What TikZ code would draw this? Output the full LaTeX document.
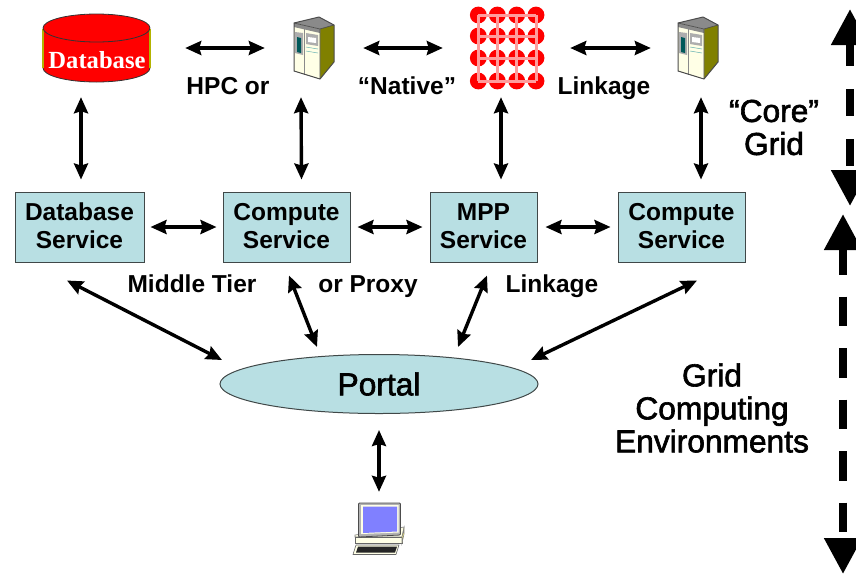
\documentclass[tikz,border=0pt]{standalone}
\usepackage{fontspec}
\setmainfont{Liberation Sans}
\newfontfamily\dbfont{Liberation Serif}
\newfontfamily\medfont[FakeBold=2]{Liberation Sans}
\usetikzlibrary{arrows.meta,shapes.geometric}
\definecolor{teal1}{HTML}{B8DFE3}
\definecolor{edge1}{HTML}{404848}
\definecolor{olive1}{HTML}{808000}
\definecolor{cream1}{HTML}{FFFFE6}
\definecolor{pink1}{HTML}{FF9C9C}
\definecolor{grey1}{HTML}{8A8A8A}
\tikzset{
  dbl/.style={line width=3.4pt,{Stealth[length=16pt,width=14pt,inset=2pt]}-{Stealth[length=16pt,width=14pt,inset=2pt]}},
  bigdash/.style={line width=8pt,{Triangle[length=36pt,width=36pt]}-{Triangle[length=36pt,width=36pt]}},
  svc/.style={draw=edge1,line width=1pt,fill=teal1,minimum height=70pt,align=center,inner sep=0pt,font=\fontsize{24.5}{28}\selectfont\bfseries,execute at end node={\rule[-2pt]{0pt}{2pt}}},
  lab/.style={inner sep=0pt,anchor=base,font=\fontsize{24.5}{28}\selectfont\bfseries},
  biglab/.style={inner sep=0pt,align=center,font=\fontsize{31.7}{33}\selectfont\medfont},
  icon/.style={inner sep=0pt,minimum width=42pt,minimum height=62pt},
  server/.pic={
    \fill[grey1] (0,6) -- (25,0) -- (40,8) -- (26,12) -- cycle;
    \fill[olive1] (26,12) -- (40,8) -- (40,45) -- (26,62) -- cycle;
    \fill[cream1] (0,6) -- (26,12) -- (26,62) -- (0,54) -- cycle;
    \fill[grey1] (0,6) -- (26,12) -- (26,16) -- (0,10) -- cycle;
    \fill[grey1!70] (1,15) -- (9,16) -- (9,38) -- (1,36) -- cycle;
    \fill[teal!70!black] (3,20) -- (7,21) -- (7,36) -- (3,35) -- cycle;
    \fill[grey1!70] (12,16) -- (24,18) -- (24,29) -- (12,27) -- cycle;
    \fill[white] (14,20) -- (22,21) -- (22,26) -- (14,25) -- cycle;
    \draw[teal!60,line width=.5pt] (12,30) -- (24,32) (12,34) -- (24,36);
    \draw[grey1,line width=.7pt] (10.5,12) -- (10.5,58);
    \draw[black!70,line width=1pt,line join=round] (0,6) -- (25,0) -- (40,8) -- (40,45) -- (26,62) -- (0,54) -- cycle;
    \draw[black!70,line width=.7pt] (0,6) -- (26,12) -- (40,8) (26,12) -- (26,62);
  }
}
\begin{document}
\begin{tikzpicture}[x=1pt,y=-1pt]
\useasboundingbox (0,0) rectangle (856,574);
% database
\fill[red,draw=black!80,line width=.8pt] (96.5,68) ellipse[x radius=53.5,y radius=14];
\fill[red] (43,28) rectangle (150,68);
\draw[olive1!60!yellow,line width=1.2pt] (43,29) -- (43,68) (150,29) -- (150,68);
\fill[red,draw=black!80,line width=.8pt] (96.5,28) ellipse[x radius=53.5,y radius=14];
\node[inner sep=0pt,minimum width=107pt,minimum height=68pt] (db) at (96.5,48) {};
\node[inner sep=0pt,text=white,font=\fontsize{24.6}{28}\selectfont\dbfont\bfseries] (dbtext) at (97,60) {Database};
% servers
\node[icon] (srvA) at (314,48) {};
\node[icon] (srvB) at (698,48) {};
\pic at (294,17) {server};
\pic at (678,17) {server};
% mpp
\node[icon,minimum width=74pt,minimum height=82pt] (mpp) at (507,48) {};
\foreach \x in {478.3,497.3,516.7,536}{\foreach \y in {15,36,58,81}{\fill[red] (\x,\y) circle[radius=8.4];}}
\foreach \x in {478.3,497.3,516.7,536}{\draw[pink1,line width=3pt] (\x,15) -- (\x,81);}
\foreach \y in {15,36,58,81}{\draw[pink1,line width=3pt] (478.3,\y) -- (536,\y);}
% services
\node[svc,minimum width=129pt] (dbs) at (79.5,227) {Database\\Service};
\node[svc,minimum width=127pt] (cs1) at (286.5,227) {Compute\\Service};
\node[svc,minimum width=107pt] (mps) at (483.5,227) {MPP\\Service};
\node[svc,minimum width=127pt] (cs2) at (681.5,227) {Compute\\Service};
% portal
\node[ellipse,draw=edge1,line width=1pt,fill=teal1,minimum width=318pt,minimum height=59pt,inner sep=0pt,font=\fontsize{31.7}{33}\selectfont\medfont] (portal) at (379,384) {Portal};
% pc
\fill[cream1,draw=black!50,line width=.6pt] (355,537) -- (402,537) -- (404,527) -- (355,535) -- cycle;
\fill[cream1,draw=black!60,line width=.7pt] (355,537) -- (402,537) -- (402,543) -- (355,543) -- cycle;
\fill[yellow!55!white,draw=black!50,line width=.6pt] (402,537) -- (404,528) -- (404,534) -- (402,543) -- cycle;
\fill[black!30,draw=black!70,line width=.8pt,rounded corners=1pt] (358.5,503) -- (400.5,503) -- (400.5,535) -- (358.5,537) -- cycle;
\fill[cream1] (361,505) -- (398.5,505) -- (398.5,532.5) -- (361,534) -- cycle;
\fill[blue!50!white] (363,506.5) -- (397,506.5) -- (397,531.5) -- (363,533) -- cycle;
\fill[cream1,draw=black!60,line width=.6pt] (356,545) -- (399,545) -- (396,554.5) -- (353,554.5) -- cycle;
\fill[black!85] (358,546.5) -- (397,546.5) -- (395,552.5) -- (356,552.5) -- cycle;
\node[inner sep=0pt,minimum width=50pt,minimum height=52pt] (pc) at (379,529) {};
% arrows top row
\draw[dbl] ([xshift=35]db.east) -- ([xshift=-28]srvA.west);
\draw[dbl] ([xshift=28]srvA.east) -- ([xshift=-27]mpp.west);
\draw[dbl] ([xshift=26]mpp.east) -- ([xshift=-26]srvB.west);
% arrows vertical
\draw[dbl] ([shift={(-15.5,15)}]db.south) -- ([shift={(1.5,-12)}]dbs.north);
\draw[dbl] ([shift={(-13,18)}]srvA.south) -- ([shift={(15,-12)}]cs1.north);
\draw[dbl] ([shift={(-6,8)}]mpp.south) -- ([shift={(17.5,-12)}]mps.north);
\draw[dbl] ([shift={(3,18)}]srvB.south) -- ([shift={(19.5,-12)}]cs2.north);
% service row
\draw[dbl] ([xshift=6]dbs.east) -- ([xshift=-6]cs1.west);
\draw[dbl] ([xshift=7]cs1.east) -- ([xshift=-7]mps.west);
\draw[dbl] ([xshift=8]mps.east) -- ([xshift=-7]cs2.west);
% portal arrows
\draw[dbl] ([shift={(-12.5,18)}]dbs.south) -- ([shift={(-157,-24)}]portal.center);
\draw[dbl] ([shift={(2.5,13)}]cs1.south) -- ([shift={(-62,-37)}]portal.center);
\draw[dbl] ([shift={(3.5,13)}]mps.south) -- ([shift={(79,-37)}]portal.center);
\draw[dbl] ([shift={(15.5,18)}]cs2.south) -- ([shift={(152,-24)}]portal.center);
\draw[dbl] ([shift={(0,16)}]portal.south) -- ([shift={(0,-11)}]pc.north);
% dashed
\coordinate (upT) at (850,9);
\coordinate (upB) at (850,206);
\coordinate (loT) at (843,214);
\coordinate (loB) at (843,574);
\draw[bigdash,dash pattern=on 27pt off 23pt,dash phase=4pt] (upT) -- (upB);
\draw[bigdash,dash pattern=on 29.5pt off 22pt,dash phase=3pt] (loT) -- (loB);
% labels
\node[lab] (l1) at (228,94) {HPC or};
\node[lab] (l2) at (407,94) {“Native”};
\node[lab] (l3) at (604,94) {Linkage};
\node[biglab] (l4) at (774,127.5) {“Core”\\Grid};
\node[lab] (l5) at (192,292) {Middle Tier};
\node[lab] (l6) at (368,292) {or Proxy};
\node[lab] (l7) at (552,292) {Linkage};
\node[biglab] (l8) at (712,408) {Grid\\Computing\\Environments};
\end{tikzpicture}
\end{document}
